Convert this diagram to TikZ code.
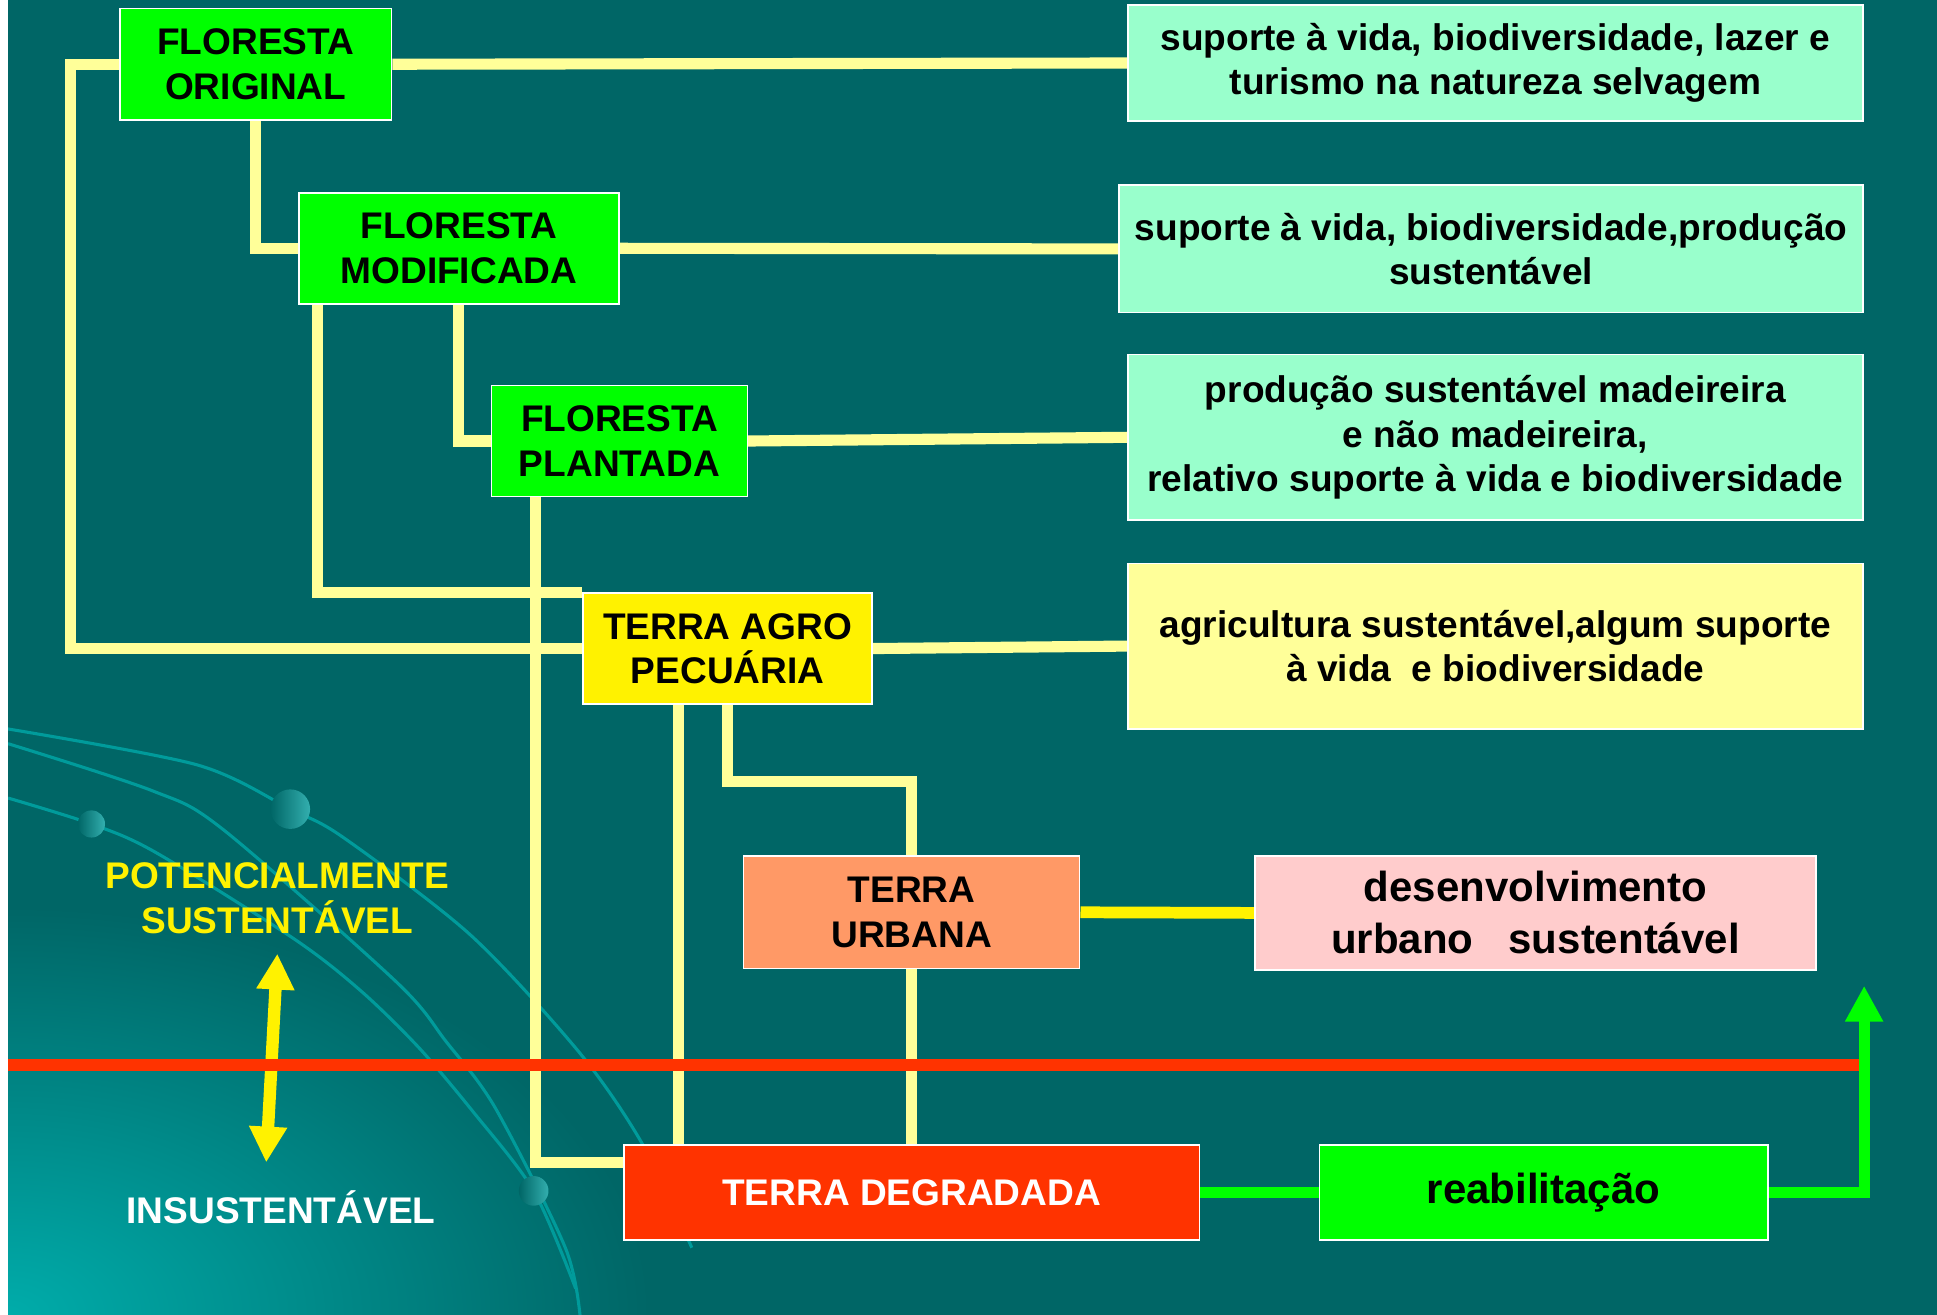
\documentclass[tikz,border=0pt]{standalone}
\usepackage{fontspec}
\setmainfont{Liberation Sans}
\usetikzlibrary{backgrounds}
\usetikzlibrary{arrows.meta}
\definecolor{slide}{RGB}{0,102,102}
\definecolor{slidelight}{RGB}{0,172,170}
\definecolor{swirl}{RGB}{0,155,155}
\definecolor{linkyellow}{RGB}{255,255,153}
\definecolor{forestgreen}{RGB}{0,255,0}
\definecolor{usegreen}{RGB}{153,255,204}
\definecolor{useyellow}{RGB}{255,255,153}
\definecolor{urbanpink}{RGB}{255,204,204}
\definecolor{urbansalmon}{RGB}{255,153,102}
\definecolor{degradedred}{RGB}{255,51,0}

\begin{document}
\begin{tikzpicture}[x=1pt,y=-1pt,font=\bfseries\fontsize{30}{36}\selectfont]

\tikzstyle{box}=[draw=white, line width=1.3pt, align=center, inner sep=0pt]
\tikzstyle{forestbox}=[box, fill=forestgreen, minimum height=90pt]
\tikzstyle{usebox}=[box, fill=usegreen, minimum width=595pt]
\tikzstyle{link}=[draw=linkyellow, line width=9pt]
\tikzstyle{greenlink}=[draw=forestgreen, line width=9pt]
\tikzstyle{swirlline}=[draw=swirl, line width=2.5pt]
\tikzstyle{bead}=[left color=slide, right color=swirl!80!white]

\useasboundingbox (0,0) rectangle (1568,1064);

\begin{scope}[on background layer]
	\fill[slide] (0,-10) rectangle (1580,1080);
	\begin{scope}
		\clip (0,-10) rectangle (1580,1080);
		\shade[inner color=slidelight, outer color=slide] (6.5,1064) ellipse [x radius=520, y radius=330];
	\end{scope}
	\draw[swirlline] plot[smooth] coordinates {(0,589) (159,619) (235,655) (278,678) (381,757) (469,852) (520,926) (560,1010)};
	\draw[swirlline] plot[smooth] coordinates {(6.5,602) (123,640) (180,671) (321,795) (361,843) (401,897) (458,1011) (470,1070)};
	\draw[swirlline] plot[smooth] coordinates {(6.5,646) (74,667) (126,690) (238,760) (292,802) (339,848) (383,900) (432,964) (466,1043)};
	\shade[bead] (74,667) circle (11);
	\shade[bead] (235,655) circle (16);
	\shade[bead] (432,964) circle (12);
	\fill[white] (-10,-10) rectangle (6.5,1080);
\end{scope}

\node[forestbox, minimum width=220pt] (original) at (207,52) {FLORESTA\\ORIGINAL};
\node[forestbox, minimum width=259pt] (modified) at (371.5,201) {FLORESTA\\MODIFICADA};
\node[forestbox, minimum width=207pt] (planted) at (501.5,357) {FLORESTA\\PLANTADA};
\node[box, fill=yellow, minimum width=234pt, minimum height=90pt] (agro) at (589,525) {TERRA AGRO\\PECUÁRIA};
\node[box, fill=urbansalmon, minimum width=272pt, minimum height=91pt] (urban) at (738,738.5) {TERRA\\URBANA};
\node[box, fill=degradedred, text=white, minimum width=466pt, minimum height=77pt] (degraded) at (738,965.5) {TERRA DEGRADADA};
\node[box, fill=forestgreen, minimum width=363pt, minimum height=77pt, font=\bfseries\fontsize{34}{42}\selectfont] (rehab) at (1249.5,965.5) {reabilitação};

\node[usebox, minimum height=94pt] (use1) at (1210.5,51) {suporte à vida, biodiversidade, lazer e\\turismo na natureza selvagem};
\node[usebox, minimum width=602pt, minimum height=103pt] (use2) at (1207,201.5) {suporte à vida, biodiversidade,produção\\sustentável};
\node[usebox, minimum height=134pt] (use3) at (1210.5,354) {produção sustentável madeireira\\e não madeireira,\\relativo suporte à vida e biodiversidade};
\node[usebox, fill=useyellow, minimum height=134pt] (use4) at (1210.5,523) {agricultura sustentável,algum suporte\\à vida\ \ e biodiversidade};
\node[box, fill=urbanpink, minimum width=454pt, minimum height=92pt, font=\bfseries\fontsize{34}{42}\selectfont] (use5) at (1243,739) {desenvolvimento\\urbano\ \ \ sustentável};

\node[text=yellow, align=center] (potential) at (224.5,727) {POTENCIALMENTE\\SUSTENTÁVEL};
\node[text=white] (unsustainable) at (227.5,977) {INSUSTENTÁVEL};

\coordinate (redstart) at (6.5,862);
\coordinate (redend) at (1512,862);
\coordinate (greentip) at (1509,798);
\coordinate (arrowlow) at (215.5,941);
\coordinate (arrowhigh) at (224.5,772);

\begin{scope}[on background layer]
	\draw[link] (original.east) -- (use1.west);
	\draw[link] (modified.east) -- (use2.west);
	\draw[link] (planted.east) -- (use3.west);
	\draw[link] (agro.east) -- (use4.west);
	\draw[draw=yellow, line width=9.5pt] (urban.east) -- (use5.west);
	\draw[link] (original.south) |- (modified.west);
	\draw[link] (original.west) -- ++(-39,0) |- (agro.west);
	\draw[link] (modified.south) |- (planted.west);
	\draw[link] ([xshift=16pt]modified.south west) |- (agro.north west);
	\draw[link] ([xshift=36pt]planted.south west) |- ([yshift=-15pt]degraded.north west);
	\draw[link] ([xshift=78pt]agro.south west) -- ([xshift=45pt]degraded.north west);
	\draw[link] (agro.south) -- ++(0,62) -| (urban.north);
	\draw[link] (urban.south) -- (degraded.north);
	\draw[draw=yellow, line width=10pt, {Triangle[length=29pt,width=29pt]}-{Triangle[length=29pt,width=29pt]}] (arrowlow) -- (arrowhigh);
	\draw[draw=degradedred, line width=9.5pt] (redstart) -- (redend);
	\draw[greenlink] (degraded.east) -- (rehab.west);
	\draw[greenlink, -{Triangle[length=29pt,width=29pt]}] (rehab.east) -| (greentip);
\end{scope}
\end{tikzpicture}
\end{document}
